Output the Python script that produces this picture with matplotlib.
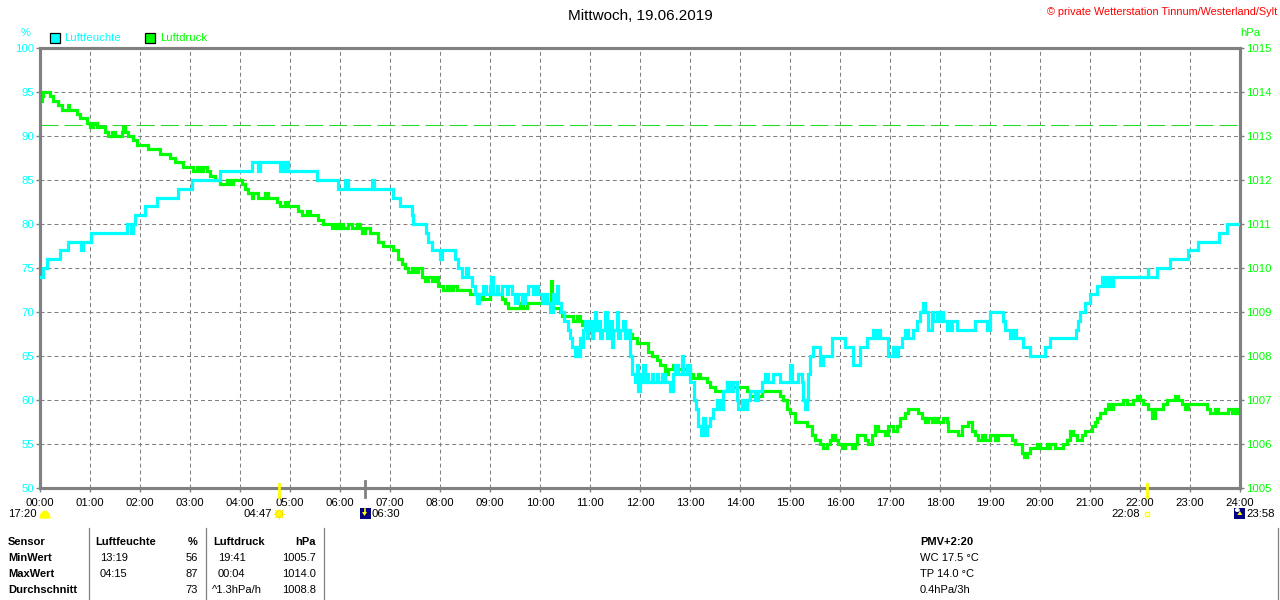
import matplotlib
matplotlib.use("Agg")
import matplotlib.pyplot as plt
from matplotlib.patches import Rectangle, Ellipse, Polygon
from matplotlib.lines import Line2D

# ---------------- data ----------------
hum_times = ["00:00", "00:04", "00:08", "00:24", "00:33", "00:49", "00:51", "01:01", "01:44", "01:49",
             "01:51", "01:54", "02:06", "02:20", "02:45", "03:02", "03:36", "04:14", "04:21", "04:24",
             "04:48", "04:52", "04:53", "04:56", "04:58", "05:32", "05:58", "06:06", "06:10", "06:38",
             "06:41", "07:04", "07:12", "07:26", "07:28", "07:43", "07:46", "07:50", "08:00", "08:02",
             "08:18", "08:21", "08:27", "08:31", "08:34", "08:38", "08:42", "08:44", "08:47", "08:52",
             "08:55", "09:00", "09:01", "09:03", "09:08", "09:10", "09:14", "09:20", "09:22", "09:26",
             "09:30", "09:34", "09:38", "09:42", "09:46", "09:52", "09:55", "09:58", "10:02", "10:06",
             "10:08", "10:12", "10:16", "10:18", "10:20", "10:22", "10:25", "10:29", "10:33", "10:36",
             "10:38", "10:42", "10:44", "10:46", "10:48", "10:50", "10:52", "10:54", "10:56", "10:58",
             "11:00", "11:02", "11:04", "11:06", "11:07", "11:10", "11:12", "11:14", "11:18", "11:20",
             "11:23", "11:26", "11:28", "11:32", "11:33", "11:36", "11:40", "11:42", "11:45", "11:48",
             "11:50", "11:54", "11:56", "11:58", "12:00", "12:02", "12:04", "12:06", "12:08", "12:10",
             "12:14", "12:16", "12:20", "12:22", "12:26", "12:30", "12:36", "12:39", "12:42", "12:46",
             "12:50", "12:52", "12:56", "13:00", "13:05", "13:07", "13:10", "13:13", "13:16", "13:18",
             "13:20", "13:24", "13:28", "13:32", "13:36", "13:40", "13:44", "13:48", "13:52", "13:56",
             "13:58", "14:02", "14:06", "14:08", "14:12", "14:18", "14:22", "14:26", "14:30", "14:34",
             "14:40", "14:48", "15:00", "15:02", "15:10", "15:14", "15:16", "15:18", "15:20", "15:22",
             "15:24", "15:28", "15:36", "15:40", "15:50", "16:06", "16:16", "16:24", "16:32", "16:40",
             "16:42", "16:46", "16:48", "16:58", "17:04", "17:06", "17:10", "17:14", "17:18", "17:22",
             "17:28", "17:32", "17:36", "17:40", "17:42", "17:46", "17:50", "17:52", "17:56", "18:00",
             "18:02", "18:04", "18:08", "18:10", "18:12", "18:14", "18:20", "18:42", "18:56", "19:00",
             "19:16", "19:18", "19:24", "19:28", "19:31", "19:40", "19:48", "20:06", "20:12", "20:43",
             "20:45", "20:48", "20:54", "21:00", "21:08", "21:14", "21:18", "21:20", "21:24", "21:28",
             "22:09", "22:10", "22:20", "22:36", "22:58", "23:10", "23:35", "23:44", "24:00"]
hum_values = [74, 75, 76, 77, 78, 77, 78, 79, 80, 79,
              80, 81, 82, 83, 84, 85, 86, 87, 86, 87,
              86, 87, 86, 87, 86, 85, 84, 85, 84, 85,
              84, 83, 82, 81, 80, 79, 78, 77, 76, 77,
              76, 75, 74, 75, 74, 73, 72, 71, 72, 73,
              72, 73, 74, 72, 73, 72, 73, 72, 73, 72,
              71, 72, 71, 72, 73, 72, 73, 72, 71, 72,
              71, 70, 72, 71, 73, 71, 70, 69, 68, 67,
              66, 65, 66, 65, 67, 66, 68, 69, 67, 68,
              69, 67, 68, 70, 68, 69, 67, 68, 70, 67,
              69, 66, 68, 70, 67, 68, 69, 67, 68, 65,
              63, 62, 64, 61, 63, 62, 64, 62, 63, 62,
              63, 62, 63, 62, 63, 62, 61, 63, 64, 63,
              65, 63, 64, 62, 60, 59, 57, 56, 58, 56,
              57, 58, 59, 60, 59, 61, 62, 61, 62, 60,
              59, 60, 59, 60, 61, 60, 61, 62, 63, 62,
              63, 62, 64, 62, 63, 62, 60, 59, 60, 63,
              65, 66, 64, 65, 67, 66, 64, 66, 67, 68,
              67, 68, 67, 65, 66, 65, 66, 67, 68, 67,
              68, 69, 70, 71, 70, 68, 70, 69, 70, 69,
              70, 69, 68, 69, 68, 69, 68, 69, 68, 70,
              69, 68, 67, 68, 67, 66, 65, 66, 67, 68,
              69, 70, 71, 72, 73, 74, 73, 74, 73, 74,
              75, 74, 75, 76, 77, 78, 79, 80, 80]

pres_times = ["00:00", "00:02", "00:04", "00:12", "00:16", "00:22", "00:26", "00:33", "00:35", "00:44",
              "00:48", "00:56", "01:00", "01:04", "01:08", "01:18", "01:22", "01:26", "01:30", "01:38",
              "01:40", "01:42", "01:46", "01:52", "01:56", "02:10", "02:24", "02:36", "02:42", "02:52",
              "03:04", "03:08", "03:12", "03:16", "03:20", "03:24", "03:30", "03:36", "03:44", "03:48",
              "03:52", "04:02", "04:06", "04:10", "04:14", "04:16", "04:22", "04:30", "04:34", "04:44",
              "04:48", "04:54", "04:58", "05:10", "05:14", "05:20", "05:24", "05:34", "05:40", "05:50",
              "05:54", "05:56", "06:00", "06:04", "06:10", "06:14", "06:20", "06:24", "06:26", "06:30",
              "06:36", "06:46", "06:52", "07:04", "07:10", "07:14", "07:18", "07:22", "07:26", "07:30",
              "07:34", "07:38", "07:42", "07:46", "07:50", "07:54", "07:58", "08:04", "08:08", "08:12",
              "08:16", "08:20", "08:36", "08:44", "08:48", "08:52", "09:00", "09:14", "09:18", "09:22",
              "09:36", "09:40", "09:44", "10:12", "10:13", "10:14", "10:16", "10:24", "10:26", "10:40",
              "10:44", "10:48", "10:50", "11:04", "11:20", "11:24", "11:48", "11:50", "11:56", "12:10",
              "12:14", "12:20", "12:24", "12:30", "12:34", "12:40", "12:44", "13:00", "13:04", "13:10",
              "13:12", "13:20", "13:24", "13:30", "13:44", "13:46", "14:08", "14:12", "14:26", "14:48",
              "14:52", "14:56", "15:00", "15:06", "15:20", "15:26", "15:30", "15:36", "15:40", "15:44",
              "15:48", "15:50", "15:54", "15:58", "16:02", "16:06", "16:14", "16:18", "16:20", "16:30",
              "16:34", "16:38", "16:42", "16:46", "16:54", "16:58", "17:04", "17:08", "17:12", "17:18",
              "17:22", "17:34", "17:38", "17:42", "17:46", "17:50", "17:54", "17:58", "18:04", "18:08",
              "18:10", "18:22", "18:26", "18:34", "18:38", "18:42", "18:46", "18:50", "18:54", "19:00",
              "19:06", "19:10", "19:26", "19:30", "19:38", "19:41", "19:44", "19:48", "19:56", "20:00",
              "20:08", "20:10", "20:12", "20:18", "20:28", "20:32", "20:36", "20:40", "20:44", "20:50",
              "20:54", "21:02", "21:06", "21:08", "21:12", "21:18", "21:22", "21:24", "21:28", "21:40",
              "21:44", "21:52", "21:56", "22:00", "22:04", "22:10", "22:14", "22:18", "22:28", "22:32",
              "22:42", "22:46", "22:50", "22:54", "22:58", "23:20", "23:24", "23:30", "23:34", "23:46",
              "23:50", "23:54", "23:56", "24:00"]
pres_values = [1013.8, 1013.9, 1014.0, 1013.9, 1013.8, 1013.7, 1013.6, 1013.7, 1013.6, 1013.5,
               1013.4, 1013.3, 1013.2, 1013.3, 1013.2, 1013.1, 1013.0, 1013.1, 1013.0, 1013.1,
               1013.2, 1013.1, 1013.0, 1012.9, 1012.8, 1012.7, 1012.6, 1012.5, 1012.4, 1012.3,
               1012.2, 1012.3, 1012.2, 1012.3, 1012.2, 1012.1, 1012.0, 1011.9, 1012.0, 1011.9,
               1012.0, 1011.9, 1011.8, 1011.7, 1011.6, 1011.7, 1011.6, 1011.7, 1011.6, 1011.5,
               1011.4, 1011.5, 1011.4, 1011.3, 1011.2, 1011.3, 1011.2, 1011.1, 1011.0, 1010.9,
               1011.0, 1010.9, 1011.0, 1010.9, 1011.0, 1010.9, 1011.0, 1010.9, 1010.8, 1010.9,
               1010.8, 1010.6, 1010.5, 1010.4, 1010.2, 1010.1, 1010.0, 1009.9, 1010.0, 1009.9,
               1010.0, 1009.8, 1009.7, 1009.8, 1009.7, 1009.8, 1009.6, 1009.5, 1009.6, 1009.5,
               1009.6, 1009.5, 1009.4, 1009.3, 1009.4, 1009.3, 1009.4, 1009.3, 1009.2, 1009.1,
               1009.2, 1009.1, 1009.2, 1009.2, 1009.7, 1009.2, 1009.1, 1009.0, 1008.9, 1008.8,
               1008.9, 1008.8, 1008.7, 1008.6, 1008.7, 1008.6, 1008.5, 1008.4, 1008.3, 1008.1,
               1008.0, 1007.9, 1007.8, 1007.6, 1007.7, 1007.8, 1007.7, 1007.6, 1007.5, 1007.6,
               1007.5, 1007.4, 1007.3, 1007.2, 1007.4, 1007.3, 1007.2, 1007.1, 1007.2, 1007.1,
               1007.0, 1006.8, 1006.7, 1006.5, 1006.4, 1006.2, 1006.1, 1006.0, 1005.9, 1006.0,
               1006.1, 1006.2, 1006.1, 1006.0, 1005.9, 1006.0, 1005.9, 1006.0, 1006.2, 1006.1,
               1006.0, 1006.2, 1006.4, 1006.3, 1006.2, 1006.4, 1006.3, 1006.4, 1006.6, 1006.7,
               1006.8, 1006.7, 1006.6, 1006.5, 1006.6, 1006.5, 1006.6, 1006.5, 1006.6, 1006.5,
               1006.3, 1006.2, 1006.4, 1006.5, 1006.3, 1006.2, 1006.1, 1006.2, 1006.1, 1006.2,
               1006.1, 1006.2, 1006.1, 1006.0, 1005.8, 1005.7, 1005.8, 1005.9, 1006.0, 1005.9,
               1006.0, 1005.9, 1006.0, 1005.9, 1006.0, 1006.1, 1006.3, 1006.2, 1006.1, 1006.2,
               1006.3, 1006.4, 1006.5, 1006.6, 1006.7, 1006.8, 1006.9, 1006.8, 1006.9, 1007.0,
               1006.9, 1007.0, 1007.1, 1007.0, 1006.9, 1006.8, 1006.6, 1006.8, 1006.9, 1007.0,
               1007.1, 1007.0, 1006.9, 1006.8, 1006.9, 1006.8, 1006.7, 1006.8, 1006.7, 1006.8,
               1006.7, 1006.8, 1006.7, 1006.7]

hour_labels = [f"{h:02d}:00" for h in range(25)]
hum_ticks = [50, 55, 60, 65, 70, 75, 80, 85, 90, 95, 100]
pres_ticks = [1005, 1006, 1007, 1008, 1009, 1010, 1011, 1012, 1013, 1014, 1015]
std_pressure = 1013.25

title = "Mittwoch, 19.06.2019"
credit = "© private Wetterstation Tinnum/Westerland/Sylt"
series_names = ["Luftfeuchte", "Luftdruck"]

table_header = ["Sensor", "Luftfeuchte", "%", "Luftdruck", "hPa"]
table_rows = [
    ["MinWert", "13:19", "56", "19:41", "1005.7"],
    ["MaxWert", "04:15", "87", "00:04", "1014.0"],
    ["Durchschnitt", "", "73", "^1.3hPa/h", "1008.8"],
]
extra_lines = ["PMV+2:20", "WC 17.5 °C", "TP 14.0 °C", "0.4hPa/3h"]

# ---------------- style ----------------
W, H = 1280, 600
CYAN = "#00ffff"
GREEN = "#00ff00"
GRAY = "#808080"
FONT = "Liberation Sans"
plt.rcParams["font.family"] = [FONT, "DejaVu Sans"]


def hrs(s):
    h, m = s.split(":")
    return int(h) + int(m) / 60.0


def P(x, y):
    return (x / W, 1 - y / H)


fig = plt.figure(figsize=(W / 100, H / 100), dpi=100)
fig.patch.set_facecolor("white")

x0, x1, ytop, ybot = 40, 1240, 48, 488
axp = fig.add_axes([x0 / W, 1 - ybot / H, (x1 - x0) / W, (ybot - ytop) / H])
axh = axp.twinx()

# pressure (bottom layer, right axis)
axp.plot([hrs(t) for t in pres_times], pres_values, drawstyle="steps-post",
         color=GREEN, lw=2.3, solid_joinstyle="miter", zorder=3)
axp.axhline(std_pressure, color="#22dd22", lw=0.75, ls=(0, (17.3, 5.8)), zorder=2)
axp.set_ylim(1005, 1015)
axp.set_xlim(0, 24)
axp.set_yticks(pres_ticks)
axp.set_xticks(range(25))
axp.set_xticklabels(hour_labels)
axp.grid(True, color=GRAY, lw=0.75, ls=(0, (3.8, 2.9)))
axp.set_axisbelow(True)
axp.yaxis.tick_right()
axp.tick_params(axis="y", colors=GRAY, labelcolor=GREEN, labelsize=8.2, length=3, width=1, pad=1.5)
axp.tick_params(axis="x", colors=GRAY, labelcolor="black", labelsize=8.2, length=3, width=1, pad=4)

# humidity (top layer, left axis)
axh.plot([hrs(t) for t in hum_times], hum_values, drawstyle="steps-post",
         color=CYAN, lw=2.3, solid_joinstyle="miter", zorder=3)
axh.set_ylim(50, 100)
axh.set_yticks(hum_ticks)
axh.yaxis.tick_left()
axh.tick_params(axis="y", colors=GRAY, labelcolor=CYAN, labelsize=8.2, length=3, width=1, pad=1.5)

for a in (axp, axh):
    for sp in a.spines.values():
        sp.set_color(GRAY)
        sp.set_linewidth(2.2)

# ---------------- header texts ----------------
fig.text(*P(640, 16), title, ha="center", va="center", fontsize=11, color="black")
fig.text(*P(1277, 12), credit, ha="right", va="center", fontsize=7.8, color="#ff0000")
fig.text(*P(26, 33), "%", ha="center", va="center", fontsize=8, color=CYAN)
fig.text(*P(1250, 33), "hPa", ha="center", va="center", fontsize=8.2, color=GREEN)

fig.add_artist(Rectangle(P(50, 43), 10 / W, 10 / H, transform=fig.transFigure,
                         facecolor=CYAN, edgecolor="black", lw=0.9))
fig.text(*P(64, 38), series_names[0], ha="left", va="center", fontsize=8.2, color=CYAN)
fig.add_artist(Rectangle(P(145, 43), 10 / W, 10 / H, transform=fig.transFigure,
                         facecolor=GREEN, edgecolor="black", lw=0.9))
fig.text(*P(160, 38), series_names[1], ha="left", va="center", fontsize=8.2, color=GREEN)

# ---------------- sun / moon markers ----------------
def xpx(tstr):
    return x0 + hrs(tstr) * (x1 - x0) / 24.0

ty = 514
# 17:20 moon (left)
fig.text(*P(37, ty), "17:20", ha="right", va="center", fontsize=8.2)
fig.add_artist(Polygon([P(40, 518), P(41, 514), P(43, 512), P(45, 511), P(47, 512), P(49, 514), P(50, 518)],
                       closed=True, transform=fig.transFigure, facecolor="#ffff00", edgecolor="#ffff00"))
# sunrise 04:47
xs = xpx("04:47")
fig.add_artist(Line2D([xs / W, xs / W], [1 - 484 / H, 1 - 497 / H], transform=fig.transFigure,
                      color="#ffff00", lw=2))
fig.text(*P(xs - 7, ty), "04:47", ha="right", va="center", fontsize=8.2)
fig.add_artist(Ellipse(P(xs, 514), 7 / W, 7 / H, transform=fig.transFigure,
                       facecolor="#ffff00", edgecolor="#ffd000", lw=0.8))
for dx, dy in [(-5, 0), (5, 0), (0, -5), (0, 5), (-4, -4), (4, 4), (-4, 4), (4, -4)]:
    fig.add_artist(Line2D([(xs + dx * 0.7) / W, (xs + dx) / W],
                          [1 - (514 + dy * 0.7) / H, 1 - (514 + dy) / H],
                          transform=fig.transFigure, color="#ffff00", lw=0.8))
# moonrise 06:30
xm = xpx("06:30")
fig.add_artist(Line2D([xm / W, xm / W], [1 - 481 / H, 1 - 497 / H], transform=fig.transFigure,
                      color=GRAY, lw=2))
fig.add_artist(Rectangle(P(xm - 5, 519), 11 / W, 11 / H, transform=fig.transFigure,
                         facecolor="#000080", edgecolor="none"))
fig.add_artist(Polygon([P(xm - 3, 512), P(xm + 2, 512), P(xm - 0.5, 516)], closed=True,
                       transform=fig.transFigure, facecolor="#ffff00", edgecolor="none"))
fig.add_artist(Line2D([(xm - 0.5) / W] * 2, [1 - 509 / H, 1 - 513 / H], transform=fig.transFigure,
                      color="#ffff00", lw=1.2))
fig.text(*P(xm + 7, ty), "06:30", ha="left", va="center", fontsize=8.2)
# sunset 22:08
xss = xpx("22:08")
fig.add_artist(Line2D([xss / W, xss / W], [1 - 484 / H, 1 - 497 / H], transform=fig.transFigure,
                      color="#ffff00", lw=2))
fig.text(*P(xss - 7, ty), "22:08", ha="right", va="center", fontsize=8.2)
fig.add_artist(Rectangle(P(xss - 2, 516), 4 / W, 4 / H, transform=fig.transFigure,
                         facecolor="none", edgecolor="#ffff00", lw=1))
# moonset 23:58
xms = xpx("23:58")
fig.add_artist(Rectangle(P(xms - 4, 519), 11 / W, 11 / H, transform=fig.transFigure,
                         facecolor="#000080", edgecolor="none"))
fig.add_artist(Ellipse(P(xms - 1, 510), 5 / W, 4 / H, transform=fig.transFigure,
                       facecolor="white", edgecolor="none"))
fig.add_artist(Polygon([P(xms - 1, 515), P(xms + 4, 515), P(xms + 1.5, 511)], closed=True,
                       transform=fig.transFigure, facecolor="#ffff00", edgecolor="none"))
fig.text(*P(xms + 8, ty), "23:58", ha="left", va="center", fontsize=8.2)

# ---------------- bottom table ----------------
row_y = [542, 558, 574, 590]
fs = 8.0
fig.text(*P(8, row_y[0]), table_header[0], ha="left", va="center", fontsize=fs, fontweight="bold")
fig.text(*P(95, row_y[0]), table_header[1], ha="left", va="center", fontsize=fs, fontweight="bold")
fig.text(*P(198, row_y[0]), table_header[2], ha="right", va="center", fontsize=fs, fontweight="bold")
fig.text(*P(213, row_y[0]), table_header[3], ha="left", va="center", fontsize=fs, fontweight="bold")
fig.text(*P(316, row_y[0]), table_header[4], ha="right", va="center", fontsize=fs, fontweight="bold")
for i, row in enumerate(table_rows):
    y = row_y[i + 1]
    fig.text(*P(8, y), row[0], ha="left", va="center", fontsize=fs, fontweight="bold")
    fig.text(*P(100, y), row[1], ha="left", va="center", fontsize=fs)
    fig.text(*P(198, y), row[2], ha="right", va="center", fontsize=fs)
    xl = 212 if row[3].startswith("^") else 218
    fig.text(*P(xl, y), row[3], ha="left", va="center", fontsize=fs)
    fig.text(*P(316, y), row[4], ha="right", va="center", fontsize=fs)

for xv in (88.5, 205.5, 323.5, 1278):
    fig.add_artist(Line2D([xv / W, xv / W], [1 - 528 / H, 0], transform=fig.transFigure,
                          color=GRAY, lw=0.9))

for i, txt in enumerate(extra_lines):
    fig.text(*P(920, row_y[i]), txt, ha="left", va="center", fontsize=fs,
             fontweight="bold" if i == 0 else "normal")

fig.savefig("out.png", dpi=100, facecolor="white")
